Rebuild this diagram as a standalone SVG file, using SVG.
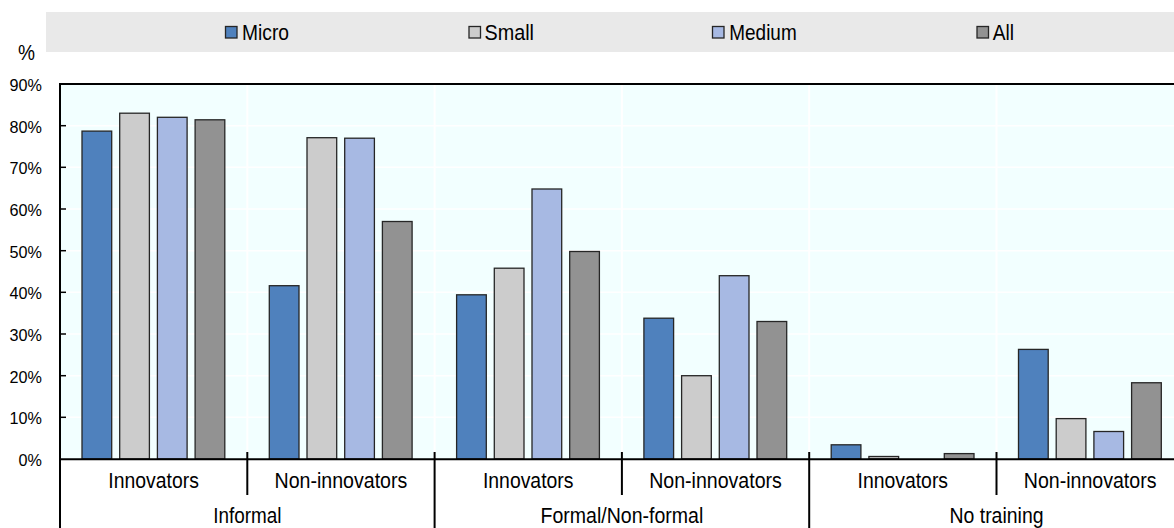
<svg xmlns="http://www.w3.org/2000/svg" width="1174" height="528" viewBox="0 0 1174 528">
<style>
text{font-family:"Liberation Sans",Arial,sans-serif;fill:#000}
.yl{font-size:17px;text-anchor:end}
.lg{font-size:22.5px}
.cl{font-size:22.5px;text-anchor:middle}
.bar{stroke:#262626;stroke-width:1.3}
.mi{fill:#4F81BD}.sm{fill:#CCCCCC}.me{fill:#A7B9E3}.al{fill:#929292}
.grid{stroke:#ffffff;stroke-width:1.5}
.vgrid{stroke:#ffffff;stroke-width:2}
.ax{stroke:#000;stroke-width:2;fill:none}
.tk{stroke:#000;stroke-width:1.5}
</style>
<rect x="0" y="0" width="1174" height="528" fill="#ffffff"/>
<g id="legend">
<rect x="46" y="12" width="1128" height="40" fill="#E9E9E9"/>
<rect class="bar mi" x="225.5" y="26.5" width="11.5" height="11.5"/>
<text class="lg" x="242" y="39.5" textLength="47" lengthAdjust="spacingAndGlyphs">Micro</text>
<rect class="bar sm" x="469" y="26.5" width="11.5" height="11.5"/>
<text class="lg" x="484.5" y="39.5" textLength="49.5" lengthAdjust="spacingAndGlyphs">Small</text>
<rect class="bar me" x="712.5" y="26.5" width="11.5" height="11.5"/>
<text class="lg" x="729.3" y="39.5" textLength="67.4" lengthAdjust="spacingAndGlyphs">Medium</text>
<rect class="bar al" x="977" y="26.5" width="11.5" height="11.5"/>
<text class="lg" x="992.7" y="39.5" textLength="21.3" lengthAdjust="spacingAndGlyphs">All</text>
</g>
<text class="lg" x="18" y="60" textLength="17" lengthAdjust="spacingAndGlyphs">%</text>
<g id="plot">
<rect x="60" y="84" width="1114" height="375" fill="#F2FFFF"/>
<g id="gridlines">
<line class="grid" x1="60" y1="417.3" x2="1174" y2="417.3"/>
<line class="grid" x1="60" y1="375.7" x2="1174" y2="375.7"/>
<line class="grid" x1="60" y1="334" x2="1174" y2="334"/>
<line class="grid" x1="60" y1="292.3" x2="1174" y2="292.3"/>
<line class="grid" x1="60" y1="250.7" x2="1174" y2="250.7"/>
<line class="grid" x1="60" y1="209" x2="1174" y2="209"/>
<line class="grid" x1="60" y1="167.3" x2="1174" y2="167.3"/>
<line class="grid" x1="60" y1="125.7" x2="1174" y2="125.7"/>
<line class="vgrid" x1="247.3" y1="84" x2="247.3" y2="459"/>
<line class="vgrid" x1="434.6" y1="84" x2="434.6" y2="459"/>
<line class="vgrid" x1="621.9" y1="84" x2="621.9" y2="459"/>
<line class="vgrid" x1="809.2" y1="84" x2="809.2" y2="459"/>
<line class="vgrid" x1="996.5" y1="84" x2="996.5" y2="459"/>
</g>
</g>
<g id="bars">
<g id="informal-innovators">
<rect class="bar mi" x="82" y="131.1" width="29.7" height="327.9"/>
<rect class="bar sm" x="119.7" y="113.2" width="29.7" height="345.8"/>
<rect class="bar me" x="157.4" y="117.3" width="29.7" height="341.7"/>
<rect class="bar al" x="195.1" y="119.8" width="29.7" height="339.2"/>
</g>
<g id="informal-noninnovators">
<rect class="bar mi" x="269.3" y="285.7" width="29.7" height="173.3"/>
<rect class="bar sm" x="307" y="137.7" width="29.7" height="321.3"/>
<rect class="bar me" x="344.7" y="138.2" width="29.7" height="320.8"/>
<rect class="bar al" x="382.4" y="221.5" width="29.7" height="237.5"/>
</g>
<g id="formal-innovators">
<rect class="bar mi" x="456.6" y="294.8" width="29.7" height="164.2"/>
<rect class="bar sm" x="494.3" y="268.2" width="29.7" height="190.8"/>
<rect class="bar me" x="532" y="189" width="29.7" height="270"/>
<rect class="bar al" x="569.7" y="251.5" width="29.7" height="207.5"/>
</g>
<g id="formal-noninnovators">
<rect class="bar mi" x="643.9" y="318.2" width="29.7" height="140.8"/>
<rect class="bar sm" x="681.6" y="375.7" width="29.7" height="83.3"/>
<rect class="bar me" x="719.3" y="275.7" width="29.7" height="183.3"/>
<rect class="bar al" x="757" y="321.5" width="29.7" height="137.5"/>
</g>
<g id="notraining-innovators">
<rect class="bar mi" x="831.2" y="444.8" width="29.7" height="14.2"/>
<rect class="bar sm" x="868.9" y="456.5" width="29.7" height="2.5"/>
<rect class="bar al" x="944.3" y="453.6" width="29.7" height="5.4"/>
</g>
<g id="notraining-noninnovators">
<rect class="bar mi" x="1018.5" y="349.4" width="29.7" height="109.6"/>
<rect class="bar sm" x="1056.2" y="418.6" width="29.7" height="40.4"/>
<rect class="bar me" x="1093.9" y="431.5" width="29.7" height="27.5"/>
<rect class="bar al" x="1131.6" y="382.75" width="29.7" height="76.25"/>
</g>
</g>
<g id="axes">
<line class="ax" x1="60" y1="84" x2="1174" y2="84"/>
<line class="ax" x1="60" y1="83" x2="60" y2="528"/>
<line class="ax" x1="59" y1="459.3" x2="1174" y2="459.3"/>
<line class="tk" x1="60" y1="417.3" x2="66" y2="417.3"/>
<line class="tk" x1="60" y1="375.7" x2="66" y2="375.7"/>
<line class="tk" x1="60" y1="334" x2="66" y2="334"/>
<line class="tk" x1="60" y1="292.3" x2="66" y2="292.3"/>
<line class="tk" x1="60" y1="250.7" x2="66" y2="250.7"/>
<line class="tk" x1="60" y1="209" x2="66" y2="209"/>
<line class="tk" x1="60" y1="167.3" x2="66" y2="167.3"/>
<line class="tk" x1="60" y1="125.7" x2="66" y2="125.7"/>
<line class="ax" x1="247.3" y1="452" x2="247.3" y2="495"/>
<line class="ax" x1="621.9" y1="452" x2="621.9" y2="495"/>
<line class="ax" x1="996.5" y1="452" x2="996.5" y2="495"/>
<line class="ax" x1="434.6" y1="452" x2="434.6" y2="528"/>
<line class="ax" x1="809.2" y1="452" x2="809.2" y2="528"/>
</g>
<g id="ylabels">
<text class="yl" x="42" y="466" textLength="23.4" lengthAdjust="spacingAndGlyphs">0%</text>
<text class="yl" x="42" y="424.3" textLength="32.4" lengthAdjust="spacingAndGlyphs">10%</text>
<text class="yl" x="42" y="382.7" textLength="32.4" lengthAdjust="spacingAndGlyphs">20%</text>
<text class="yl" x="42" y="341" textLength="32.4" lengthAdjust="spacingAndGlyphs">30%</text>
<text class="yl" x="42" y="299.3" textLength="32.4" lengthAdjust="spacingAndGlyphs">40%</text>
<text class="yl" x="42" y="257.7" textLength="32.4" lengthAdjust="spacingAndGlyphs">50%</text>
<text class="yl" x="42" y="216" textLength="32.4" lengthAdjust="spacingAndGlyphs">60%</text>
<text class="yl" x="42" y="174.3" textLength="32.4" lengthAdjust="spacingAndGlyphs">70%</text>
<text class="yl" x="42" y="132.7" textLength="32.4" lengthAdjust="spacingAndGlyphs">80%</text>
<text class="yl" x="42" y="91" textLength="32.4" lengthAdjust="spacingAndGlyphs">90%</text>
</g>
<g id="xlabels">
<text class="cl" x="153.6" y="488.3" textLength="90.5" lengthAdjust="spacingAndGlyphs">Innovators</text>
<text class="cl" x="340.9" y="488.3" textLength="132.7" lengthAdjust="spacingAndGlyphs">Non-innovators</text>
<text class="cl" x="528.2" y="488.3" textLength="90.5" lengthAdjust="spacingAndGlyphs">Innovators</text>
<text class="cl" x="715.5" y="488.3" textLength="132.7" lengthAdjust="spacingAndGlyphs">Non-innovators</text>
<text class="cl" x="902.8" y="488.3" textLength="90.5" lengthAdjust="spacingAndGlyphs">Innovators</text>
<text class="cl" x="1090.1" y="488.3" textLength="132.7" lengthAdjust="spacingAndGlyphs">Non-innovators</text>
<text class="cl" x="247.3" y="523" textLength="68.3" lengthAdjust="spacingAndGlyphs">Informal</text>
<text class="cl" x="621.9" y="523" textLength="162.7" lengthAdjust="spacingAndGlyphs">Formal/Non-formal</text>
<text class="cl" x="996.5" y="523" textLength="94" lengthAdjust="spacingAndGlyphs">No training</text>
</g>
</svg>
